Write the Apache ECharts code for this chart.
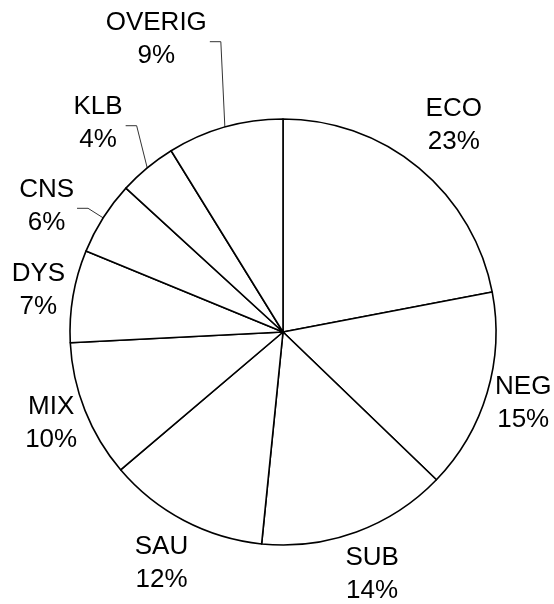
<!DOCTYPE html>
<html>
<head>
<meta charset="utf-8">
<script src="https://cdn.jsdelivr.net/npm/echarts@6/dist/echarts.min.js"></script>
<style>
  html, body { margin: 0; padding: 0; background: #fff; }
  #container { width: 554px; height: 604px; }
</style>
</head>
<body>
<div id="container"></div>
<script>
// slice names, clockwise from 12 o'clock
var categories = ['ECO', 'NEG', 'SUB', 'SAU', 'MIX', 'DYS', 'CNS', 'KLB', 'OVERIG'];
// shares
var shares = [22.0, 15.2, 14.4, 12.2, 10.4, 7.0, 5.6, 4.4, 8.8];
// percentage text printed on the chart
var pctLabels = ['23%', '15%', '14%', '12%', '10%', '7%', '6%', '4%', '9%'];

var CX = 283, CY = 332, R = 213;

// labels that were pushed away from the crowded top-left, with a leader line
var nudge = {
  OVERIG: { da: -7.6, dr: 59 },
  KLB:    { da: -2,   dr: 18 },
  CNS:    { da: -4.4, dr: 15 }
};

var total = 0;
for (var i in shares) total += shares[i];
var mids = [];
var cum = 0;
for (var i = 0; i < shares.length; i++) {
  mids.push((cum + shares[i] / 2) / total * 360);
  cum += shares[i];
}

var seriesData = [];
for (var i = 0; i < categories.length; i++) {
  seriesData.push({
    name: categories[i],
    value: shares[i],
    labelLine: { show: !!nudge[categories[i]] }
  });
}

var chart = echarts.init(document.getElementById('container'));
var option = {
  animation: false,
  series: [{
    type: 'pie',
    center: [CX, CY],
    radius: R,
    startAngle: 90,
    clockwise: true,
    avoidLabelOverlap: false,
    silent: true,
    data: seriesData,
    itemStyle: {
      color: '#fff',
      borderColor: '#000',
      borderWidth: 1.6
    },
    label: {
      show: true,
      position: 'outside',
      color: '#000',
      fontFamily: '"Liberation Sans", Arial, sans-serif',
      fontSize: 26,
      lineHeight: 33,
      formatter: function (p) {
        return p.name + '\n' + pctLabels[p.dataIndex];
      }
    },
    labelLine: {
      lineStyle: { color: '#333', width: 1 }
    },
    labelLayout: function (p) {
      var i = p.dataIndex;
      var n = nudge[categories[i]] || { da: 0, dr: 0 };
      var a = (mids[i] + n.da) * Math.PI / 180;
      var ux = Math.sin(a), uy = -Math.cos(a);
      var hw = p.labelRect.width / 2 + 5, hh = p.labelRect.height / 2 + 7;
      var ext = Math.min(
        Math.abs(ux) > 1e-6 ? hw / Math.abs(ux) : Infinity,
        Math.abs(uy) > 1e-6 ? hh / Math.abs(uy) : Infinity
      );
      var d = R + 3 + ext + n.dr;
      var x = CX + ux * d, y = CY + uy * d;
      var out = { x: x, y: y, align: 'center', verticalAlign: 'middle' };
      if (nudge[categories[i]]) {
        var am = mids[i] * Math.PI / 180;
        var ex = CX + Math.sin(am) * R, ey = CY - Math.cos(am) * R;
        var right = x + p.labelRect.width / 2;
        out.labelLinePoints = [[ex, ey], [right + 14, y + 2], [right + 3, y + 2]];
      }
      return out;
    }
  }]
};
chart.setOption(option);
</script>
</body>
</html>
